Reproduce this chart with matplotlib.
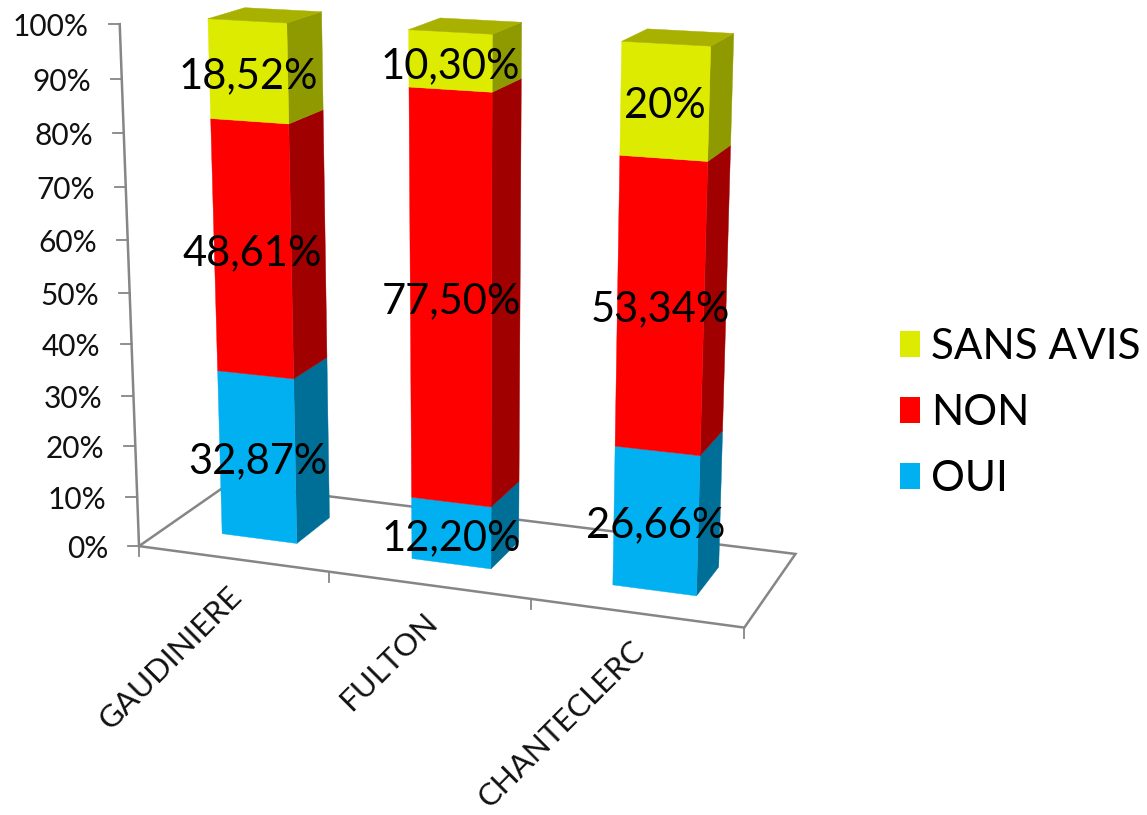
import matplotlib
matplotlib.use("Agg")
import matplotlib.pyplot as plt
import numpy as np
from matplotlib.patches import Patch, Polygon

plt.rcParams['font.family'] = ['Lato', 'DejaVu Sans']

# Données du graphique
categories = ["GAUDINIERE", "FULTON", "CHANTECLERC"]
oui = [32.87, 12.20, 26.66]
non = [48.61, 77.50, 53.34]
sans_avis = [18.52, 10.30, 20.00]
labels_oui = ["32,87%", "12,20%", "26,66%"]
labels_non = ["48,61%", "77,50%", "53,34%"]
labels_sans_avis = ["18,52%", "10,30%", "20%"]
y_ticks = [0, 10, 20, 30, 40, 50, 60, 70, 80, 90, 100]

# Couleurs (face, côté, dessus)
colors_oui = ("#00B0F0", "#006F98")
colors_non = ("#FF0000", "#A00000")
colors_sans_avis = ("#DDEB00", "#8F9900", "#A8B000")
axis_color = "#868686"

# Réglage de la perspective : (x catégorie, valeur, profondeur) -> pixels
calib_3d = [
    (0, 0, 0), (1, 0, 0), (2, 0, 0), (3, 0, 0), (3, 0, 1), (0, 0, 1),
    (0, 100, 0), (0, 50, 0),
    (0.3, 0, 0.3), (0.7, 0, 0.3), (0.7, 0, 0.7),
    (0.3, 100, 0.3), (0.7, 100, 0.3), (0.7, 100, 0.7), (0.3, 100, 0.7),
    (1.3, 0, 0.3), (1.7, 0, 0.3), (1.7, 0, 0.7),
    (1.3, 100, 0.3), (1.3, 100, 0.7),
    (2.3, 0, 0.3), (2.7, 0, 0.3), (2.7, 0, 0.7),
    (2.3, 100, 0.3), (2.7, 100, 0.3), (2.7, 100, 0.7), (2.3, 100, 0.7),
]
calib_px = [
    (139, 546), (329, 572), (530, 600), (744, 628), (796, 553), (229, 484),
    (120, 24), (130, 292),
    (222, 534), (297, 543), (329, 517),
    (208, 19), (287, 23), (321, 12), (243, 8),
    (412, 559), (491, 568), (519, 543),
    (409, 29), (442, 18),
    (613, 584), (697, 595), (718, 568),
    (623, 42), (710, 46), (734, 33), (646, 29),
]


def fit_camera(pts3d, pts2d):
    rows, rhs = [], []
    for (x, y, z), (u, v) in zip(pts3d, pts2d):
        rows.append([x, y, z, 1, 0, 0, 0, 0, -u * x, -u * y, -u * z])
        rows.append([0, 0, 0, 0, x, y, z, 1, -v * x, -v * y, -v * z])
        rhs += [u, v]
    sol = np.linalg.lstsq(np.array(rows, float), np.array(rhs, float), rcond=None)[0]
    return np.append(sol, 1).reshape(3, 4)


cam = fit_camera(calib_3d, calib_px)


def proj(x, y, z):
    p = cam @ np.array([x, y, z, 1.0])
    return p[0] / p[2], p[1] / p[2]


fig = plt.figure(figsize=(11.47, 8.15), dpi=100)
ax = fig.add_axes([0, 0, 1, 1])
ax.set_xlim(0, 1147)
ax.set_ylim(815, 0)
ax.axis("off")

# Sol et axes
lw = 1.8
tick_lw = 1.3
floor = [proj(0, 0, 0), proj(3, 0, 0), proj(3, 0, 1), proj(0, 0, 1)]
ax.add_patch(Polygon(floor, closed=True, fill=False, edgecolor=axis_color, lw=lw, zorder=1))
x0, y0 = zip(proj(0, 0, 0), proj(0, 100, 0))
ax.plot(x0, y0, color=axis_color, lw=lw, zorder=1)
for v in y_ticks:
    px, py = proj(0, v, 0)
    ax.plot([px - 11, px], [py, py], color=axis_color, lw=tick_lw, zorder=1)
    ax.text(px - 31, py + 3, f"{v}%", ha="right", va="center", fontsize=21.5, color="#111111")
for i in range(len(categories) + 1):
    px, py = proj(i, 0, 0)
    ax.plot([px, px], [py, py + 10], color=axis_color, lw=tick_lw, zorder=1)

# Barres empilées
gap = 0.3
for i in range(len(categories)):
    left, right = i + gap, i + 1 - gap
    front, back = gap, 1 - gap
    bottom = 0
    series = [(oui, colors_oui, labels_oui), (non, colors_non, labels_non),
              (sans_avis, colors_sans_avis, labels_sans_avis)]
    for values, cols, texts in series:
        top = bottom + values[i]
        face = [proj(left, bottom, front), proj(right, bottom, front),
                proj(right, top, front), proj(left, top, front)]
        side = [proj(right, bottom, front), proj(right, bottom, back),
                proj(right, top, back), proj(right, top, front)]
        ax.add_patch(Polygon(side, closed=True, fc=cols[1], ec=cols[1], lw=0.3, zorder=2 + i))
        ax.add_patch(Polygon(face, closed=True, fc=cols[0], ec=cols[0], lw=0.3, zorder=2 + i))
        if len(cols) == 3:
            lid = [proj(left, top, front), proj(right, top, front),
                   proj(right, top, back), proj(left, top, back)]
            ax.add_patch(Polygon(lid, closed=True, fc=cols[2], ec=cols[2], lw=0.3, zorder=2 + i))
        cx = np.mean([p[0] for p in face])
        cy = np.mean([p[1] for p in face])
        ax.text(cx, cy + 5, texts[i], ha="center", va="center", fontsize=30, color="black", zorder=10)
        bottom = top

# Catégories
for i, name in enumerate(categories):
    px, py = proj(i + 0.5, 0, 0)
    ax.text(px - 6, py + 23, name, rotation=45, rotation_mode="anchor", ha="right", va="top",
            fontsize=22.5, color="#111111")

# Légende
handles = [Patch(fc=colors_sans_avis[0], label="SANS AVIS"),
           Patch(fc=colors_non[0], label="NON"),
           Patch(fc=colors_oui[0], label="OUI")]
ax.legend(handles=handles, loc="center left", bbox_to_anchor=(900, 413), bbox_transform=ax.transData,
          frameon=False, fontsize=30.4, handlelength=0.476, handleheight=0.55, handletextpad=0.26,
          labelspacing=0.66, borderpad=0, borderaxespad=0)

fig.savefig("out.png", dpi=100)
